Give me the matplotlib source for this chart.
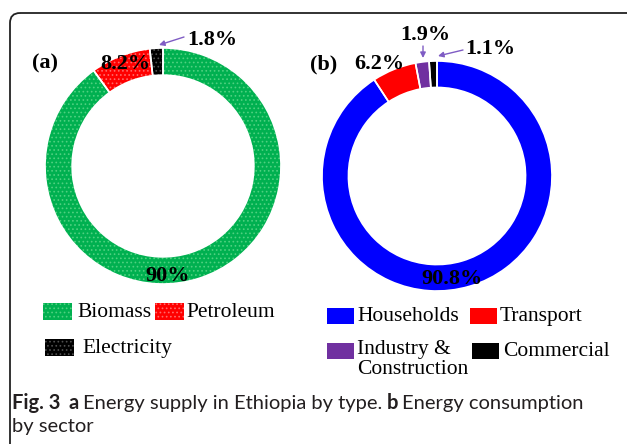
import matplotlib
matplotlib.use('Agg')
import matplotlib.pyplot as plt
from matplotlib.patches import FancyBboxPatch, Rectangle

# figure size in pixels
W, H = 627, 444

# (a) energy supply by type
supply_labels = ['Biomass', 'Petroleum', 'Electricity']
supply_pct = [90, 8.2, 1.8]
supply_colors = ['#00b050', '#ff0000', '#000000']
supply_dots = ['#4fd080', '#ff6a6a', '#505050']

# (b) energy consumption by sector
sector_labels = ['Households', 'Transport', 'Industry &\nConstruction', 'Commercial']
sector_pct = [90.8, 6.2, 1.9, 1.1]
sector_colors = ['#0000ff', '#ff0000', '#7030a0', '#000000']

plt.rcParams['font.family'] = ['Liberation Serif', 'DejaVu Serif']
plt.rcParams['hatch.linewidth'] = 0.7

fig = plt.figure(figsize=(W / 100, H / 100), dpi=100)


def donut(cx, cy, r, vals, colors, dots=None):
    ax = fig.add_axes([(cx - r) / W, 1 - (cy + r) / H, 2 * r / W, 2 * r / H])
    wedges, _ = ax.pie(vals, colors=colors, startangle=90, counterclock=False,
                       radius=1, wedgeprops=dict(width=0.23, linewidth=0))
    if dots:
        # dotted texture, then white separators drawn on top
        for w, dc in zip(wedges, dots):
            w.set_hatch('....')
            w.set_edgecolor(dc)
    ax.pie(vals, colors=['none'] * len(vals), startangle=90, counterclock=False,
           radius=1, wedgeprops=dict(width=0.23, edgecolor='white', linewidth=1.2))
    ax.set_xlim(-1, 1)
    ax.set_ylim(-1, 1)
    ax.axis('off')
    return ax


donut(163, 166, 118, supply_pct, supply_colors, supply_dots)
donut(437, 176, 115, sector_pct, sector_colors)

# overlay axes in pixel units (y down) for labels, legends and caption
ov = fig.add_axes([0, 0, 1, 1])
ov.set_xlim(0, W)
ov.set_ylim(H, 0)
ov.axis('off')

# outer rounded frame
ov.add_patch(FancyBboxPatch((10, 13), 640, 460, boxstyle='round,pad=0,rounding_size=10',
                            fill=False, edgecolor='#222222', linewidth=1.3, clip_on=False))

bold = dict(fontsize=16, fontweight='bold', ha='center', va='center')
arrow = dict(arrowstyle='-|>', color='#7f5cc4', lw=1, mutation_scale=8, shrinkA=0, shrinkB=0)

ov.text(45, 63, '(a)', **bold)
ov.text(125, 64, '%.1f%%' % supply_pct[1], **bold)
ov.text(168, 276, '%d%%' % supply_pct[0], **bold)
ov.text(212, 40, '%.1f%%' % supply_pct[2], **bold)
ov.annotate('', xy=(159, 45), xytext=(184, 37), arrowprops=arrow)

ov.text(324, 64, '(b)', **bold)
ov.text(379, 64, '%.1f%%' % sector_pct[1], **bold)
ov.text(425, 35, '%.1f%%' % sector_pct[2], **bold)
ov.text(490, 49, '%.1f%%' % sector_pct[3], **bold)
ov.text(452, 279, '%.1f%%' % sector_pct[0], **bold)
ov.annotate('', xy=(423, 58), xytext=(423, 46), arrowprops=arrow)
ov.annotate('', xy=(438, 56), xytext=(463, 50), arrowprops=arrow)

# legends (patch x, patch top y, text x)
leg_a = [(43, 303, 77), (155, 303, 186), (45, 339, 82)]
for (px, py, tx), lab, col, dc in zip(leg_a, supply_labels, supply_colors, supply_dots):
    ov.add_patch(Rectangle((px, py), 29, 17, facecolor=col, edgecolor=dc,
                           hatch='....', linewidth=0))
    ov.text(tx, py + 9, lab, fontsize=15.5, va='center', ha='left')

leg_b = [(327, 308, 357), (470, 308, 500), (327, 343, 357), (472, 343, 503)]
for (px, py, tx), lab, col in zip(leg_b, sector_labels, sector_colors):
    ov.add_patch(Rectangle((px, py), 27, 16, facecolor=col, edgecolor='none'))
    if '\n' in lab:
        ov.text(tx, py - 3, lab, fontsize=15.5, va='top', ha='left', linespacing=1.05)
    else:
        ov.text(tx, py + 8, lab, fontsize=15.5, va='center', ha='left')

# caption, sized so the first line spans the same width as the reference
cap = dict(family='Lato', va='baseline', color='#231f20')
parts = [('Fig. 3', 'bold', 8), ('a', 'bold', 4), ('Energy supply in Ethiopia by type.', 'normal', 4),
         ('b', 'bold', 4), ('Energy consumption', 'normal', 0)]
fig.canvas.draw()
inv = ov.transData.inverted()


def set_line(size):
    x = 12
    made = []
    for txt, wt, gap in parts:
        t = ov.text(x, 409, txt, fontweight=wt, fontsize=size, **cap)
        fig.canvas.draw()
        x = inv.transform(t.get_window_extent())[1][0] + gap * size / 14
        made.append(t)
    return made, x


made, end = set_line(14)
size = 14 * (588 - 12) / (end - 12)
for t in made:
    t.remove()
set_line(size)
ov.text(12, 432, 'by sector', fontsize=size, **cap)

fig.savefig('out.png', dpi=100)
